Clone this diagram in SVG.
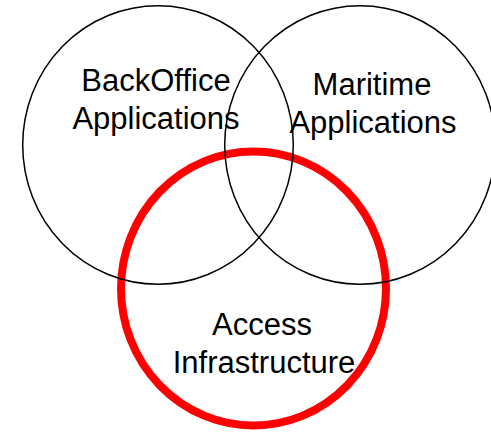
<svg xmlns="http://www.w3.org/2000/svg" width="491" height="432" viewBox="0 0 491 432">
<style>
.ring{fill:none;stroke:#000;stroke-width:1.5}
.red{fill:none;stroke:#ff0000;stroke-width:8}
.lbl{font-family:"Liberation Sans",Arial,sans-serif;font-size:31px;fill:#000;text-anchor:middle}
</style>
<rect width="491" height="432" fill="#fff"/>
<g id="access">
<ellipse class="red" cx="253.5" cy="288.5" rx="132.5" ry="137"/>
<text class="lbl"><tspan x="262" y="335">Access</tspan><tspan x="264" y="372.5">Infrastructure</tspan></text>
</g>
<g id="backoffice">
<ellipse class="ring" cx="158" cy="145" rx="135.3" ry="139.3"/>
<text class="lbl"><tspan x="156" y="90.5">BackOffice</tspan><tspan x="156" y="129">Applications</tspan></text>
</g>
<g id="maritime">
<ellipse class="ring" cx="360" cy="145" rx="135.3" ry="139.3"/>
<text class="lbl"><tspan x="372" y="95">Maritime</tspan><tspan x="373" y="133">Applications</tspan></text>
</g>
<g id="connectors"/>
</svg>
